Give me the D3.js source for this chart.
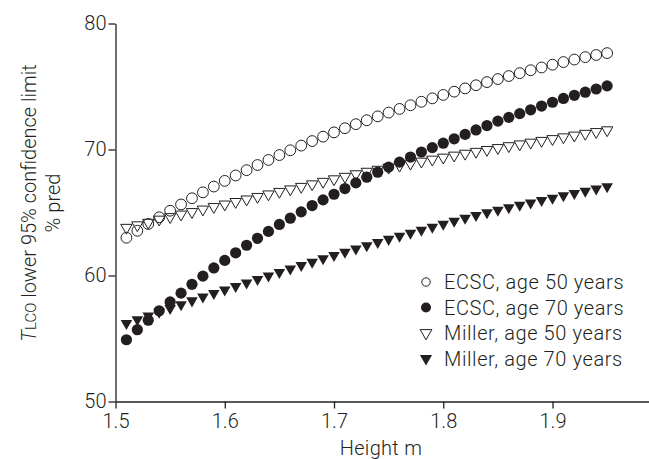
<!DOCTYPE html>
<html>
<head>
<meta charset="utf-8">
<script src="https://cdn.jsdelivr.net/npm/d3@7"></script>
<style>
body { margin: 0; background: #fff; }
svg { display: block; font-family: Roboto, "Noto Sans", sans-serif; font-weight: 300; }
</style>
</head>
<body>
<svg></svg>
<script>
var WIDTH = 649;
var HEIGHT = 459;
var INK = '#231f20';

// height in metres, one point every 0.01 m
var heights = [1.51, 1.52, 1.53, 1.54, 1.55, 1.56, 1.57, 1.58, 1.59, 1.60,
    1.61, 1.62, 1.63, 1.64, 1.65, 1.66, 1.67, 1.68, 1.69, 1.70,
    1.71, 1.72, 1.73, 1.74, 1.75, 1.76, 1.77, 1.78, 1.79, 1.80,
    1.81, 1.82, 1.83, 1.84, 1.85, 1.86, 1.87, 1.88, 1.89, 1.90,
    1.91, 1.92, 1.93, 1.94, 1.95];

var ecsc50 = [63.00, 63.55, 64.09, 64.62, 65.14, 65.64, 66.13, 66.60, 67.06, 67.51,
    67.94, 68.36, 68.77, 69.17, 69.56, 69.94, 70.31, 70.67, 71.02, 71.36,
    71.69, 72.01, 72.32, 72.63, 72.93, 73.22, 73.51, 73.79, 74.06, 74.33,
    74.59, 74.85, 75.10, 75.35, 75.59, 75.83, 76.06, 76.29, 76.51, 76.73,
    76.94, 77.14, 77.33, 77.50, 77.65];

var ecsc70 = [54.90, 55.70, 56.45, 57.20, 57.90, 58.60, 59.30, 59.95, 60.60, 61.20,
    61.80, 62.40, 62.95, 63.50, 64.05, 64.55, 65.05, 65.55, 66.00, 66.45,
    66.90, 67.35, 67.80, 68.20, 68.60, 69.00, 69.40, 69.80, 70.15, 70.50,
    70.85, 71.20, 71.55, 71.90, 72.25, 72.55, 72.85, 73.15, 73.45, 73.75,
    74.05, 74.30, 74.55, 74.80, 75.05];

var miller50 = [63.80, 64.00, 64.20, 64.45, 64.65, 64.85, 65.05, 65.25, 65.45, 65.65,
    65.85, 66.05, 66.25, 66.45, 66.65, 66.85, 67.05, 67.25, 67.45, 67.65,
    67.85, 68.05, 68.25, 68.41, 68.57, 68.73, 68.89, 69.05, 69.21, 69.37,
    69.53, 69.68, 69.83, 69.98, 70.13, 70.28, 70.42, 70.56, 70.70, 70.84,
    70.98, 71.12, 71.26, 71.40, 71.54];

var miller70 = [56.20, 56.50, 56.80, 57.10, 57.40, 57.70, 58.00, 58.30, 58.58, 58.86,
    59.14, 59.42, 59.70, 59.98, 60.26, 60.53, 60.80, 61.07, 61.34, 61.60,
    61.86, 62.12, 62.38, 62.63, 62.88, 63.13, 63.37, 63.61, 63.85, 64.09,
    64.32, 64.55, 64.78, 65.00, 65.20, 65.39, 65.58, 65.77, 65.96, 66.15,
    66.34, 66.52, 66.70, 66.88, 67.06];

var xTicks = [1.5, 1.6, 1.7, 1.8, 1.9];
var yTicks = [50, 60, 70, 80];
var legendLabels = ['ECSC, age 50 years', 'ECSC, age 70 years',
    'Miller, age 50 years', 'Miller, age 70 years'];

var svg = d3.select('svg')
    .attr('width', WIDTH)
    .attr('height', HEIGHT);

// x axis runs on to the right edge of the picture
var X0 = 115.5, X19 = 552.5;
var pxPerUnit = (X19 - X0) / 0.4;
var xScale = d3.scaleLinear()
    .domain([1.5, 1.5 + (WIDTH - X0) / pxPerUnit])
    .range([X0, WIDTH]);
var yScale = d3.scaleLinear()
    .domain([50, 80])
    .range([401.5, 23.5]);

var series = [
    {values: ecsc50, type: d3.symbolCircle, size: Math.PI * 5.4 * 5.4, filled: false, flip: false},
    {values: ecsc70, type: d3.symbolCircle, size: Math.PI * 5.6 * 5.6, filled: true, flip: false},
    {values: miller50, type: d3.symbolTriangle, size: 56, filled: false, flip: true},
    {values: miller70, type: d3.symbolTriangle, size: 58, filled: true, flip: true}
];

var bottomAxis = d3.axisBottom(xScale)
    .tickValues(xTicks)
    .tickFormat(d3.format('.1f'))
    .tickSizeInner(7)
    .tickSizeOuter(0)
    .tickPadding(5);
var gx = svg.append('g')
    .attr('transform', 'translate(0,' + yScale(50) + ')')
    .call(bottomAxis);

var leftAxis = d3.axisLeft(yScale)
    .tickValues(yTicks)
    .tickSizeInner(7)
    .tickSizeOuter(0)
    .tickPadding(2);
var gy = svg.append('g')
    .attr('transform', 'translate(' + X0 + ',0)')
    .call(leftAxis);

[gx, gy].forEach(function(g){
    g.selectAll('path, line').attr('stroke', INK).attr('stroke-width', 1.3);
    g.selectAll('text')
        .attr('fill', INK)
        .style('font-size', '20px')
        .style('font-family', 'Roboto, sans-serif')
        .style('font-weight', 300);
});

// points
series.forEach(function(s){
    var sym = d3.symbol().type(s.type).size(s.size);
    svg.append('g').selectAll('path')
        .data(s.values)
        .enter()
        .append('path')
        .attr('d', sym)
        .attr('transform', function(d, i){
            return 'translate(' + xScale(heights[i]) + ',' + yScale(d) + ')' + (s.flip ? ' rotate(180)' : '');
        })
        .attr('fill', s.filled ? INK : 'none')
        .attr('stroke', INK)
        .attr('stroke-width', s.filled ? 0 : 1);
});

// legend
var legendSizes = [Math.PI * 4.2 * 4.2, Math.PI * 5 * 5, 60, 64];
var legend = svg.append('g').attr('transform', 'translate(426,282)');
legendLabels.forEach(function(label, i){
    var s = series[i];
    var row = legend.append('g').attr('transform', 'translate(0,' + (i * 25.5) + ')');
    row.append('path')
        .attr('d', d3.symbol().type(s.type).size(legendSizes[i]))
        .attr('transform', s.flip ? 'rotate(180)' : null)
        .attr('fill', s.filled ? INK : 'none')
        .attr('stroke', INK)
        .attr('stroke-width', s.filled ? 0 : 1);
    row.append('text')
        .attr('x', 18)
        .attr('y', 7)
        .attr('fill', INK)
        .style('font-size', '20px')
        .style('letter-spacing', '0.6px')
        .text(label);
});

// axis titles
svg.append('text')
    .attr('x', 381)
    .attr('y', 455)
    .attr('text-anchor', 'middle')
    .attr('fill', INK)
    .style('font-size', '20px')
    .style('letter-spacing', '0.3px')
    .text('Height m');

var ytitle = svg.append('text')
    .attr('transform', 'translate(35.5,203) rotate(-90)')
    .attr('text-anchor', 'middle')
    .attr('fill', INK)
    .style('font-size', '20px');
ytitle.append('tspan').style('font-style', 'italic').text('T');
ytitle.append('tspan').style('font-size', '15px').text('LCO');
ytitle.append('tspan').text(' lower 95% confidence limit');

svg.append('text')
    .attr('transform', 'translate(60,203) rotate(-90)')
    .attr('text-anchor', 'middle')
    .attr('fill', INK)
    .style('font-size', '20px')
    .text('% pred');
</script>
</body>
</html>
